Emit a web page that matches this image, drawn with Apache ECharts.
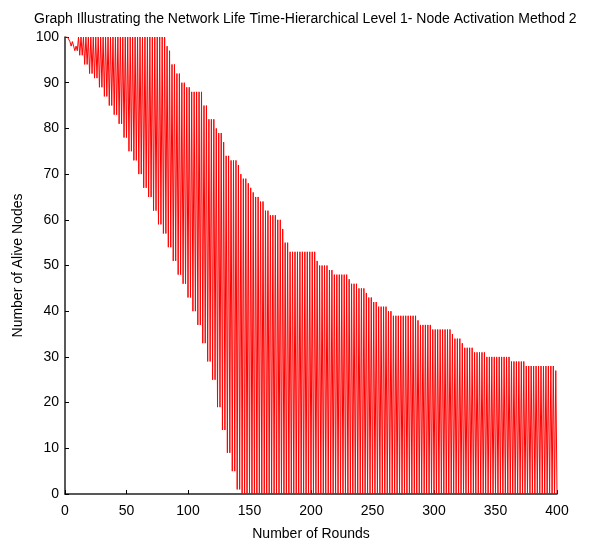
<!DOCTYPE html>
<html>
<head>
<meta charset="utf-8">
<script src="https://cdn.jsdelivr.net/npm/echarts@6/dist/echarts.min.js"></script>
<style>html,body{margin:0;padding:0;background:#fff}#c{width:592px;height:542px}</style>
</head>
<body>
<div id="c"></div>
<script>
// Upper envelope: step start rounds and alive-node values
const upperRounds = [0, 5, 10, 82, 84, 87, 90, 94, 98, 102, 112, 117, 122, 124, 129, 131, 134, 140, 143, 145, 148, 150, 153, 154, 159, 163, 167, 172, 177, 179, 183, 205, 207, 215, 218, 230, 233, 239, 245, 247, 250, 254, 263, 267, 287, 289, 298, 315, 317, 323, 324, 333, 343, 363, 374, 399];
const upperValues = [100, 98, 100, 98, 97, 94, 92, 90, 89, 88, 85, 82, 80, 79, 77, 74, 73, 72, 70, 69, 68, 67, 66, 65, 64, 62, 61, 60, 58, 55, 53, 51, 50, 49, 48, 47, 46, 45, 44, 43, 42, 41, 40, 39, 38, 37, 36, 35, 34, 33, 32, 31, 30, 29, 28, 27];
// Lower envelope: values read every 4 rounds
const lowerRounds = [0, 4, 8, 12, 16, 20, 24, 28, 32, 36, 40, 44, 48, 52, 56, 60, 64, 68, 72, 76, 80, 84, 88, 92, 96, 100, 104, 108, 112, 116, 120, 124, 128, 132, 136, 140, 144];
const lowerValues = [100, 99, 97, 96, 94, 92, 91, 89, 87, 85, 83, 81, 78, 75, 73, 70, 67, 65, 62, 59, 57, 54, 51, 48, 46, 43, 40, 37, 33, 29, 25, 19, 14, 9, 5, 1, 0];
const xTicks = [0, 50, 100, 150, 200, 250, 300, 350, 400];
const yTicks = [0, 10, 20, 30, 40, 50, 60, 70, 80, 90, 100];
const totalRounds = 400;

function stepLookup(rs, vs, r) {
  let v = vs[0];
  for (let i = 0; i < rs.length; i++) { if (rs[i] <= r) v = vs[i]; else break; }
  return v;
}
const data = [];
for (let r = 0; r <= totalRounds; r++) {
  const v = (r % 2 === 1) ? stepLookup(upperRounds, upperValues, r) : stepLookup(lowerRounds, lowerValues, r);
  data.push([r, v]);
}

const chart = echarts.init(document.getElementById('c'), null, {renderer: 'canvas'});
const font = 'Liberation Sans, Arial, sans-serif';
chart.setOption({
  animation: false,
  backgroundColor: '#fff',
  title: {
    text: 'Graph Illustrating the Network Life Time-Hierarchical Level 1- Node Activation Method 2',
    left: 29, top: 7,
    textStyle: {fontFamily: font, fontSize: 14, fontWeight: 'normal', color: '#000'}
  },
  grid: {left: 65, right: 35, top: 37, bottom: 48, containLabel: false, outerBoundsMode: 'none'},
  xAxis: {
    type: 'value', min: 0, max: 400, interval: 50,
    name: 'Number of Rounds', nameLocation: 'middle', nameGap: 33,
    nameTextStyle: {fontFamily: font, fontSize: 14, color: '#000'},
    axisLine: {show: true, onZero: false, lineStyle: {color: '#222', width: 1.5}},
    axisTick: {show: true, inside: true, length: 4, lineStyle: {color: '#000'}},
    axisLabel: {fontFamily: font, fontSize: 14, color: '#000', margin: 10,
      formatter: v => xTicks.includes(v) ? String(v) : ''},
    splitLine: {show: false}
  },
  yAxis: {
    type: 'value', min: 0, max: 100, interval: 10,
    name: 'Number of Alive Nodes', nameLocation: 'middle', nameGap: 40, nameRotate: 90,
    nameTextStyle: {fontFamily: font, fontSize: 14, color: '#000'},
    axisLine: {show: true, lineStyle: {color: '#222', width: 1.5}},
    axisTick: {show: true, inside: true, length: 4, lineStyle: {color: '#000'}},
    axisLabel: {fontFamily: font, fontSize: 14, color: '#000', margin: 6,
      formatter: v => yTicks.includes(v) ? String(v) : ''},
    splitLine: {show: false}
  },
  series: [{
    type: 'line', data: data, symbol: 'none', smooth: false,
    lineStyle: {color: '#ff0000', width: 1}
  }]
});
</script>
</body>
</html>
